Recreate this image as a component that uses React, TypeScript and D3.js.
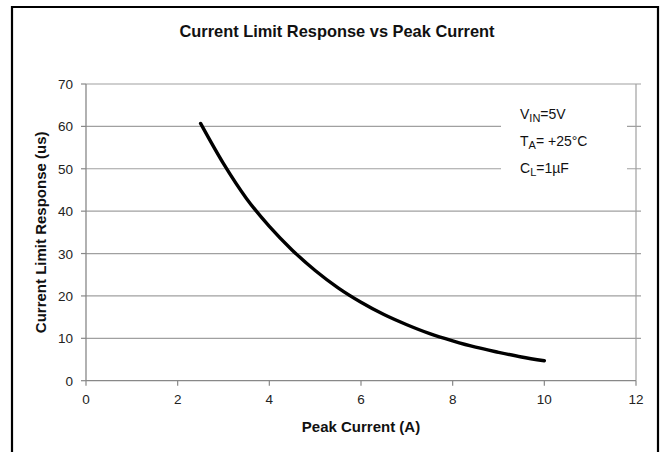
import React from "react";
import * as d3 from "d3";

const title = "Current Limit Response vs Peak Current";
const xLabel = "Peak Current (A)";
const yLabel = "Current Limit Response (us)";
const xTicks = [0, 2, 4, 6, 8, 10, 12];
const yTicks = [0, 10, 20, 30, 40, 50, 60, 70];
const peakCurrent = [2.5, 3.0, 3.5, 4.0, 4.5, 5.0, 5.5, 6.0, 6.5, 7.0, 7.5, 8.0, 8.5, 9.0, 9.5, 10.0];
const responseUs = [60.7, 51.2, 43.0, 36.4, 30.8, 26.0, 21.9, 18.5, 15.6, 13.2, 11.1, 9.4, 7.9, 6.7, 5.6, 4.7];

const W = 665;
const H = 452;
const m = { left: 86, right: 636, top: 84, bottom: 380.7 };
const font = "'Liberation Sans', Arial, sans-serif";

export default function App() {
  const x = d3.scaleLinear().domain([0, 12]).range([m.left, m.right]);
  const y = d3.scaleLinear().domain([0, 70]).range([m.bottom, m.top]);
  const pts: [number, number][] = peakCurrent.map((v, i) => [v, responseUs[i]]);
  const line = d3
    .line<[number, number]>()
    .x((d) => x(d[0]))
    .y((d) => y(d[1]))
    .curve(d3.curveMonotoneX);
  const grid = "#a0a0a0";
  const axis = "#888888";
  return (
    <svg
      width={W}
      height={H}
      style={{ position: "absolute", left: 0, top: 0, background: "#fff" }}
      fontFamily={font}
    >
      <rect x={0} y={0} width={W} height={H} fill="#fff" />
      <path d={`M12,${H + 5} V7 H658 V${H + 5}`} fill="none" stroke="#000" strokeWidth={2.2} />
      <text x={337} y={37} textAnchor="middle" fontSize={16.4} fontWeight="bold" fill="#111">
        {title}
      </text>
      {yTicks.filter((t) => t > 0).map((t) => (
        <line key={"g" + t} x1={m.left} x2={m.right + 5} y1={y(t)} y2={y(t)} stroke={grid} strokeWidth={1.2} />
      ))}
      <line x1={m.right} x2={m.right} y1={m.top} y2={m.bottom} stroke={grid} strokeWidth={1.2} />
      <line x1={m.left} x2={m.left} y1={m.top} y2={m.bottom} stroke={axis} strokeWidth={1.3} />
      <line x1={m.left} x2={m.right} y1={m.bottom} y2={m.bottom} stroke={axis} strokeWidth={1.3} />
      {yTicks.map((t) => (
        <g key={"y" + t}>
          <line x1={m.left - 5} x2={m.left} y1={y(t)} y2={y(t)} stroke={axis} strokeWidth={1.2} />
          <text x={73} y={y(t) + 5} textAnchor="end" fontSize={13.5} fill="#222">
            {t}
          </text>
        </g>
      ))}
      {xTicks.map((t) => (
        <g key={"x" + t}>
          <line x1={x(t)} x2={x(t)} y1={m.bottom} y2={m.bottom + 5} stroke={axis} strokeWidth={1.2} />
          <text x={x(t)} y={404} textAnchor="middle" fontSize={13.5} fill="#222">
            {t}
          </text>
        </g>
      ))}
      <text x={(m.left + m.right) / 2} y={432} textAnchor="middle" fontSize={15} fontWeight="bold" fill="#111">
        {xLabel}
      </text>
      <text
        transform={`translate(46,${(m.top + m.bottom) / 2}) rotate(-90)`}
        textAnchor="middle"
        fontSize={15}
        fontWeight="bold"
        fill="#111"
      >
        {yLabel}
      </text>
      <rect x={501} y={100} width={126} height={85} fill="#fff" />
      <g fontSize={14} fill="#111">
        <text x={520} y={119}>
          V<tspan fontSize={11} dy={3}>IN</tspan>
          <tspan dy={-3}>=5V</tspan>
        </text>
        <text x={520} y={146}>
          T<tspan fontSize={11} dy={3}>A</tspan>
          <tspan dy={-3}>= +25°C</tspan>
        </text>
        <text x={520} y={173}>
          C<tspan fontSize={11} dy={3}>L</tspan>
          <tspan dy={-3}>=1µF</tspan>
        </text>
      </g>
      <path d={line(pts) ?? ""} fill="none" stroke="#000" strokeWidth={3.4} strokeLinecap="round" />
    </svg>
  );
}
